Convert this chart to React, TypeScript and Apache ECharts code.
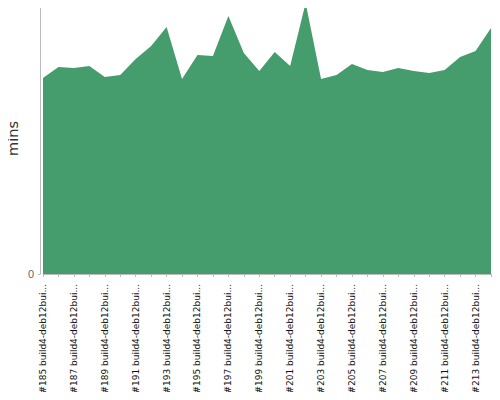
import React, { useEffect, useRef } from "react";
import * as echarts from "echarts";

const buildNumbers = [185, 186, 187, 188, 189, 190, 191, 192, 193, 194, 195, 196, 197, 198, 199, 200, 201, 202, 203, 204, 205, 206, 207, 208, 209, 210, 211, 212, 213, 214];
const hostName = "build4-deb12builder";
const categories = buildNumbers.map((n) => `#${n} ${hostName}`);
const minutes = [19.6, 20.7, 20.6, 20.8, 19.7, 19.9, 21.5, 22.8, 24.7, 19.5, 21.9, 21.8, 25.8, 22.1, 20.3, 22.2, 20.8, 27.1, 19.5, 19.9, 21.0, 20.4, 20.2, 20.6, 20.3, 20.1, 20.4, 21.7, 22.3, 24.6];
const yTickValues = [0];

export default function App() {
  const ref = useRef<HTMLDivElement>(null);
  useEffect(() => {
    if (!ref.current) return;
    const chart = echarts.init(ref.current, null, { renderer: "svg" });
    chart.setOption({
      animation: false,
      grid: { left: 43, right: 9, top: 3, bottom: 126, containLabel: false, outerBoundsMode: "none" },
      xAxis: {
        type: "category",
        data: categories,
        boundaryGap: false,
        offset: 4,
        axisLine: { lineStyle: { color: "#bbbbbb", width: 1 } },
        axisTick: { show: true, interval: 0, length: 3, lineStyle: { color: "#bbbbbb" } },
        axisLabel: {
          interval: 1,
          rotate: 90,
          margin: 6,
          fontSize: 9,
          fontFamily: "DejaVu Sans",
          color: "#111111",
          formatter: (v: string) => (v.length > 20 ? v.slice(0, 20) + "..." : v),
        },
        splitLine: { show: false },
      },
      yAxis: {
        type: "value",
        min: 0,
        max: "dataMax",
        offset: 3,
        name: "mins",
        nameLocation: "middle",
        nameGap: 20,
        nameMoveOverlap: false,
        nameTextStyle: { fontSize: 14.5, fontFamily: "DejaVu Sans", color: "#333333" },
        axisLine: { show: true, lineStyle: { color: "#bbbbbb", width: 1 } },
        axisTick: { show: true, length: 2, customValues: yTickValues, lineStyle: { color: "#bbbbbb" } },
        axisLabel: {
          customValues: yTickValues,
          fontSize: 11,
          fontFamily: "Liberation Sans",
          color: "#666666",
          margin: 6,
        },
        splitLine: { show: false },
      },
      series: [
        {
          type: "line",
          data: minutes,
          symbol: "none",
          lineStyle: { width: 0, color: "#459c6c" },
          itemStyle: { color: "#459c6c" },
          areaStyle: { color: "#459c6c", opacity: 1 },
        },
      ],
    });
    return () => chart.dispose();
  }, []);
  return <div ref={ref} style={{ width: 500, height: 400, margin: -8 }} />;
}
